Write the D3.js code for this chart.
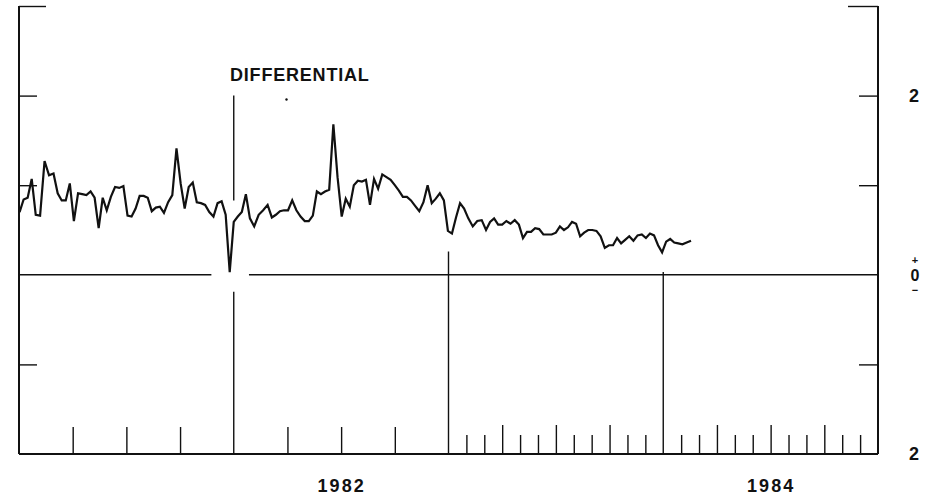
<!DOCTYPE html>
<html>
<head>
<meta charset="utf-8">
<script src="https://cdn.jsdelivr.net/npm/d3@7/dist/d3.min.js"></script>
<style>
  html, body { margin: 0; padding: 0; background: #fff; }
  svg text { font-family: "Liberation Sans", Arial, sans-serif; font-weight: bold; fill: #111; }
</style>
</head>
<body>
<svg id="chart" width="938" height="499"></svg>
<script>
// ---- Data (weekly differential, starting first week of 1981) ----
const startDate = "1981-01-02";
const values = [
  0.70, 0.84, 0.86, 1.07, 0.67, 0.66, 1.27, 1.11, 1.13, 0.91,
  0.83, 0.83, 1.02, 0.60, 0.91, 0.90, 0.89, 0.93, 0.86, 0.52,
  0.86, 0.72, 0.87, 0.98, 0.97, 0.99, 0.66, 0.65, 0.74, 0.88,
  0.88, 0.86, 0.71, 0.75, 0.76, 0.69, 0.81, 0.89, 1.41, 1.02,
  0.74, 0.98, 1.03, 0.81, 0.80, 0.78, 0.70, 0.65, 0.80, 0.82,
  0.67, 0.03, 0.59, 0.65, 0.70, 0.90, 0.63, 0.54, 0.67, 0.72,
  0.78, 0.64, 0.67, 0.71, 0.72, 0.72, 0.83, 0.72, 0.65, 0.60,
  0.60, 0.66, 0.93, 0.90, 0.93, 0.95, 1.68, 1.09, 0.65, 0.85,
  0.76, 1.00, 1.05, 1.04, 1.06, 0.78, 1.07, 0.96, 1.12, 1.09,
  1.06, 1.00, 0.94, 0.87, 0.87, 0.83, 0.77, 0.71, 0.81, 1.00,
  0.80, 0.85, 0.91, 0.83, 0.49, 0.46, 0.64, 0.80, 0.74, 0.63,
  0.54, 0.60, 0.61, 0.50, 0.59, 0.63, 0.56, 0.56, 0.60, 0.57,
  0.61, 0.56, 0.41, 0.48, 0.48, 0.52, 0.51, 0.45, 0.45, 0.45,
  0.47, 0.54, 0.50, 0.53, 0.59, 0.57, 0.43, 0.47, 0.50, 0.50,
  0.49, 0.43, 0.30, 0.33, 0.33, 0.41, 0.35, 0.39, 0.43, 0.38,
  0.44, 0.45, 0.41, 0.46, 0.44, 0.33, 0.25, 0.37, 0.40, 0.36,
  0.35, 0.34, 0.36, 0.38
];

// Axis definitions (months since Jan 1981)
const yearStarts = [12, 24, 36];                 // 1982, 1983, 1984 boundaries
const quarterTicksEarly = [3, 6, 9, 15, 18, 21]; // 1981-82 quarterly ticks
const quarterTicksLate = [27, 30, 33, 39, 42, 45];
const monthTicksLate = [25, 26, 28, 29, 31, 32, 34, 35, 37, 38, 40, 41, 43, 44, 46, 47];
const yearLabels = ["1982", "1984"];
const yearLabelPos = [18, 42];
const yTicks = [2, 1, -1];
const yLabelValues = [2, -2];
const yLabelTexts = ["2", "2"];
const zeroLabelParts = ["+", "0", "\u2212"];
const seriesLabel = "DIFFERENTIAL";

// ---- Scales ----
const svg = d3.select("#chart");
const x = d3.scaleLinear().domain([0, 48]).range([19, 878]);
const y = d3.scaleLinear().domain([-2, 3]).range([454, 6]);

function monthPos(d) {
  const yr = d.getFullYear(), m = d.getMonth();
  const dim = new Date(yr, m + 1, 0).getDate();
  return (yr - 1981) * 12 + m + (d.getDate() - 1) / dim;
}
const t0 = d3.timeParse("%Y-%m-%d")(startDate);
const data = values.map((v, i) => ({ t: monthPos(d3.timeDay.offset(t0, 7 * i)), v }));

const ink = "#111";

// ---- Frame ----
const frame = svg.append("g").attr("stroke", ink).attr("fill", "none");
frame.append("line").attr("x1", x(0)).attr("x2", x(0)).attr("y1", y(3)).attr("y2", y(-2)).attr("stroke-width", 2);
frame.append("line").attr("x1", x(48)).attr("x2", x(48)).attr("y1", y(3)).attr("y2", y(-2)).attr("stroke-width", 2);
frame.append("line").attr("x1", x(0)).attr("x2", x(48)).attr("y1", y(-2)).attr("y2", y(-2)).attr("stroke-width", 2);

// ---- Left / right axes with inward ticks ----
function styleAxis(g) {
  g.select(".domain").remove();
  g.selectAll(".tick line").attr("stroke", ink).attr("stroke-width", 1.4);
  g.selectAll(".tick text").remove();
}
svg.append("g").attr("transform", `translate(${x(0)},0)`)
  .call(d3.axisLeft(y).tickValues(yTicks).tickSize(-18)).call(styleAxis);
svg.append("g").attr("transform", `translate(${x(0)},0)`)
  .call(d3.axisLeft(y).tickValues([3]).tickSize(-27)).call(styleAxis);
svg.append("g").attr("transform", `translate(${x(48)},0)`)
  .call(d3.axisRight(y).tickValues(yTicks).tickSize(-19)).call(styleAxis);
svg.append("g").attr("transform", `translate(${x(48)},0)`)
  .call(d3.axisRight(y).tickValues([3]).tickSize(-30)).call(styleAxis);

// ---- Bottom ticks ----
const bottom = (vals, size) => svg.append("g").attr("transform", `translate(0,${y(-2)})`)
  .call(d3.axisBottom(x).tickValues(vals).tickSize(-size)).call(styleAxis);
bottom(quarterTicksEarly, 27);
bottom(quarterTicksLate, 29);
bottom(monthTicksLate, 19);

// Year labels
svg.append("g").attr("transform", `translate(0,${y(-2)})`)
  .call(d3.axisBottom(x).tickValues(yearLabelPos).tickSize(0).tickPadding(25)
    .tickFormat((d, i) => yearLabels[i]))
  .call(g => g.select(".domain").remove())
  .call(g => g.selectAll(".tick text")
    .style("font-family", "'Liberation Sans', Arial, sans-serif")
    .style("font-weight", "bold").style("font-size", "18px")
    .style("letter-spacing", "2px").attr("fill", ink));

// ---- Zero line with break at the 1982 boundary ----
const gapFrom = 10.75, gapTo = 12.85;
svg.append("line").attr("x1", x(0)).attr("x2", x(gapFrom)).attr("y1", y(0)).attr("y2", y(0))
  .attr("stroke", ink).attr("stroke-width", 1.6);
svg.append("line").attr("x1", x(gapTo)).attr("x2", x(48)).attr("y1", y(0)).attr("y2", y(0))
  .attr("stroke", ink).attr("stroke-width", 1.6);

// ---- Year boundary verticals ----
const vlines = [
  { t: yearStarts[0], a: 2, b: 0.83 },
  { t: yearStarts[0], a: -0.19, b: -2 },
  { t: yearStarts[1], a: 0.26, b: -2 },
  { t: yearStarts[2], a: 0.03, b: -2 }
];
svg.append("g").selectAll("line").data(vlines).join("line")
  .attr("x1", d => x(d.t)).attr("x2", d => x(d.t))
  .attr("y1", d => y(d.a)).attr("y2", d => y(d.b))
  .attr("stroke", ink).attr("stroke-width", 1.4);

// ---- Series line ----
svg.append("path").datum(data)
  .attr("fill", "none").attr("stroke", ink).attr("stroke-width", 2.2)
  .attr("stroke-linejoin", "miter")
  .attr("d", d3.line().x(d => x(d.t)).y(d => y(d.v)));

// ---- Labels ----
svg.append("text").attr("x", 230).attr("y", 80.5)
  .style("font-size", "18px").style("letter-spacing", "0.8px").text(seriesLabel);
svg.append("circle").attr("cx", 286.5).attr("cy", 99.5).attr("r", 1.2).attr("fill", ink);

const rx = 914;
svg.append("g").selectAll("text").data(yLabelValues).join("text")
  .attr("x", rx).attr("y", d => y(d) + 6)
  .attr("text-anchor", "middle").style("font-size", "18px")
  .text((d, i) => yLabelTexts[i]);

// stacked "+ 0 −" label at zero
const zeroParts = [
  { t: zeroLabelParts[0], dy: -11, size: 11 },
  { t: zeroLabelParts[1], dy: 6, size: 16 },
  { t: zeroLabelParts[2], dy: 19.5, size: 11 }
];
svg.append("g").selectAll("text").data(zeroParts).join("text")
  .attr("x", rx + 1).attr("y", d => y(0) + d.dy)
  .attr("text-anchor", "middle").style("font-size", d => d.size + "px")
  .text(d => d.t);
</script>
</body>
</html>
